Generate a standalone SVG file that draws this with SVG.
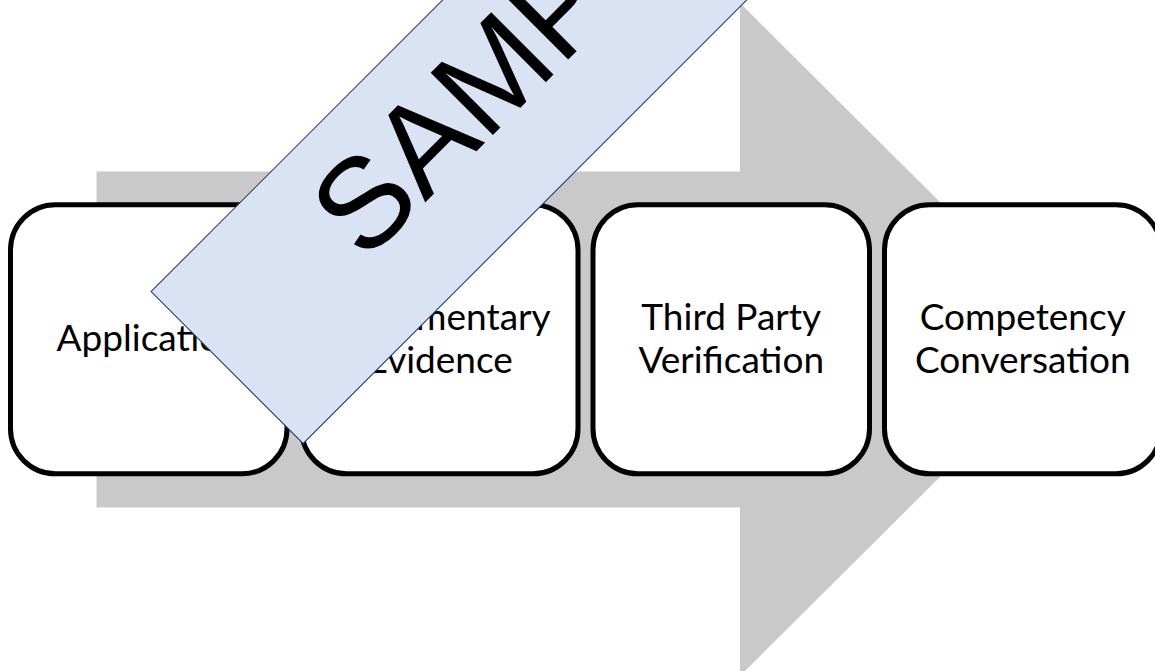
<svg xmlns="http://www.w3.org/2000/svg" width="1155" height="671" viewBox="0 0 1155 671">
  <style>
    .step { fill: #ffffff; stroke: #000000; stroke-width: 5; }
    .label { font-family: Lato, "Open Sans", "Liberation Sans", sans-serif; font-size: 37px; fill: #000000; text-anchor: middle; }
    .banner { fill: #DAE3F3; stroke: #203864; stroke-width: 1; }
    .stamp { font-family: "Liberation Sans", Arial, sans-serif; font-size: 128px; fill: #000000; }
  </style>
  <rect width="1155" height="671" fill="#ffffff"/>

  <!-- background process arrow -->
  <g id="connectors">
    <polygon fill="#C9C9C9" points="96.5,171.5 740,171.5 740,3 1078,339.5 740,676 740,507.5 96.5,507.5"/>
  </g>

  <g id="step-application">
    <rect class="step" x="10.5" y="204.8" width="276.5" height="269" rx="45" ry="45"/>
    <text class="label" x="148.75" y="351">Application</text>
  </g>

  <g id="step-documentary-evidence">
    <rect class="step" x="301.5" y="204.8" width="276.5" height="269" rx="45" ry="45"/>
    <text class="label" x="439.75" y="329.5">Documentary</text>
    <text class="label" x="439.75" y="373">Evidence</text>
  </g>

  <g id="step-third-party">
    <rect class="step" x="593" y="204.8" width="276.5" height="269" rx="45" ry="45"/>
    <text class="label" x="731.25" y="329.5">Third Party</text>
    <text class="label" x="731.25" y="373">Verification</text>
  </g>

  <g id="step-competency">
    <rect class="step" x="884.5" y="204.8" width="276.5" height="269" rx="45" ry="45"/>
    <text class="label" x="1022.75" y="329.5">Competency</text>
    <text class="label" x="1022.75" y="373">Conversation</text>
  </g>

  <!-- diagonal watermark banner -->
  <g id="watermark" transform="rotate(-45)">
    <rect class="banner" x="-99.3" y="313" width="861" height="215"/>
    <text class="stamp" x="71.8" y="444">SAMPLE</text>
  </g>
</svg>
